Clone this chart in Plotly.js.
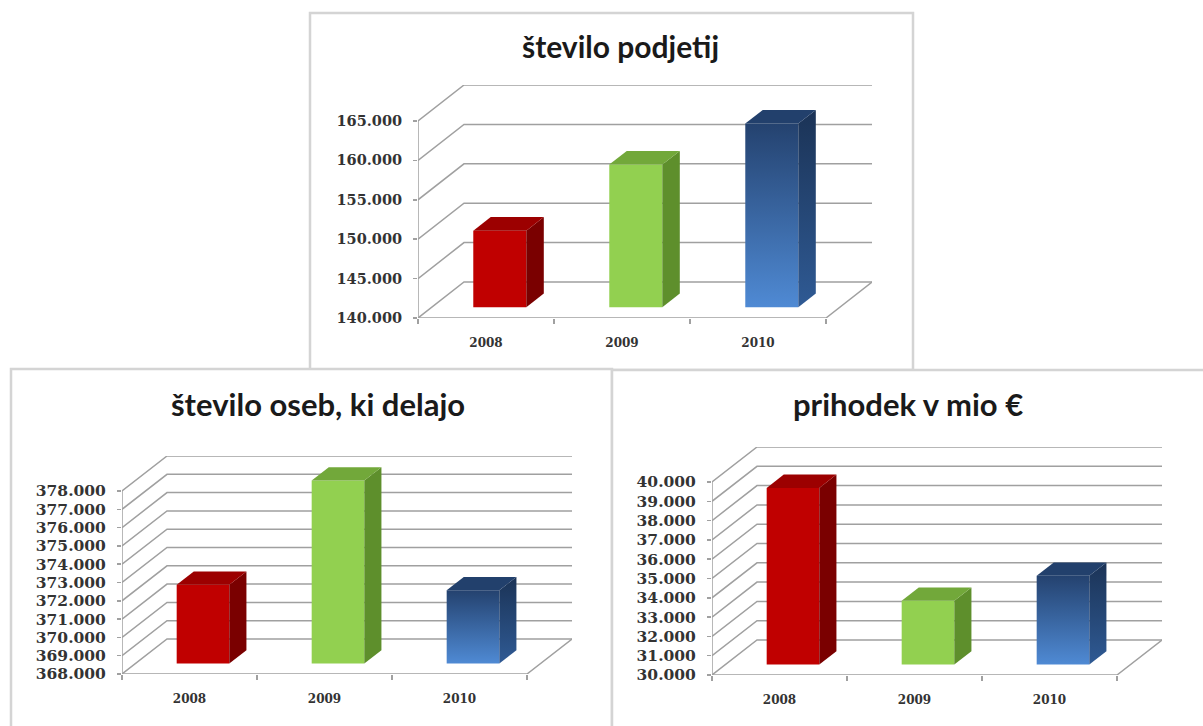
<!DOCTYPE html>
<html>
<head>
<meta charset="utf-8">
<script src="https://cdn.plot.ly/plotly-3.0.1.min.js"></script>
<style>
html,body{margin:0;padding:0;background:#fff;}
#chart{width:1203px;height:726px;}
</style>
</head>
<body>
<div id="chart"></div>
<script>
// ---------- data ----------
const years = ['2008', '2009', '2010'];
const titles = ['število podjetij', 'število oseb, ki delajo', 'prihodek v mio €'];
const podjetja = [149700, 158100, 163300];
const osebe = [372300, 378000, 372000];
const prihodek = [39150, 33300, 34600];
const axisPodjetja = [140000, 165000, 5000];
const axisOsebe = [368000, 378000, 1000];
const axisPrihodek = [30000, 40000, 1000];

// ---------- layout helpers ----------
const W = 1203, H = 726;
const barColors = [
  {front: '#c00000', side: '#7a0000', top: '#9c0000'},
  {front: '#92d050', side: '#5e8f2c', top: '#72a83a'},
  {front: 'grad', side: 'gradSide', top: '#22406c'}
];

const traces = [];
const layout = {
  width: W, height: H,
  margin: {l: 0, r: 0, t: 0, b: 0},
  paper_bgcolor: '#ffffff',
  plot_bgcolor: 'rgba(0,0,0,0)',
  showlegend: false,
  separators: ',.',
  hovermode: false,
  annotations: [],
  shapes: []
};

// panels: geometry in pixels
const panels = [
  {vals: podjetja, ax: axisPodjetja, title: titles[0],
   x0: 418, x1: 826, yb: 318, yt: 121, dxp: 46, dyp: 36,
   titleX: 620, titleY: 46, titleSize: 30, tickSize: 14.5,
   box: [310, 13, 913, 370]},
  {vals: osebe, ax: axisOsebe, title: titles[1],
   x0: 122, x1: 527, yb: 674, yt: 491, dxp: 45, dyp: 35,
   titleX: 318, titleY: 404, titleSize: 31, tickSize: 15.5,
   box: [11, 369, 612, 740]},
  {vals: prihodek, ax: axisPrihodek, title: titles[2],
   x0: 712, x1: 1117, yb: 675, yt: 482, dxp: 45, dyp: 35,
   titleX: 908, titleY: 404, titleSize: 31, tickSize: 15.5,
   box: [612, 370, 1215, 740]}
];

const gridColor = '#a0a0a0';
const F0 = 0.3, F1 = 0.68, BW = 0.39;

panels.forEach((p, k) => {
  const n = k === 0 ? '' : String(k + 1);
  const xa = 'x' + n, ya = 'y' + n;
  const [vmin, vmax, step] = p.ax;
  const catPx = (p.x1 - p.x0) / 3;
  const DX = p.dxp / catPx;
  const pxPerUnit = (p.yb - p.yt) / (vmax - vmin);
  const DY = p.dyp / pxPerUnit;
  const tickVals = [];
  for (let v = vmin; v <= vmax + 1e-6; v += step) tickVals.push(v);

  layout['xaxis' + n] = {
    domain: [p.x0 / W, (p.x1 + p.dxp) / W],
    range: [-0.5, 2.5 + DX],
    anchor: ya,
    showgrid: false, zeroline: false, showline: false,
    tickmode: 'array', tickvals: [0, 1, 2], ticktext: years,
    ticks: '',
    ticklabelstandoff: 16,
    tickfont: {family: 'DejaVu Serif', size: 12, weight: 'bold', color: '#333333'},
    minor: {tickvals: [-0.5, 0.5, 1.5, 2.5], ticks: 'outside', ticklen: 5, tickcolor: gridColor, tickwidth: 1.5, showgrid: false},
    fixedrange: true
  };
  layout['yaxis' + n] = {
    domain: [1 - p.yb / H, 1 - (p.yt - p.dyp) / H],
    range: [vmin, vmax + DY],
    anchor: xa,
    showgrid: false, zeroline: false, showline: false,
    tickmode: 'array', tickvals: tickVals,
    tickformat: ',d',
    ticks: 'outside', ticklen: 4, tickcolor: gridColor, tickwidth: 1.5,
    ticklabelstandoff: 8,
    tickfont: {family: 'DejaVu Serif', size: p.tickSize, weight: 'bold', color: '#333333'},
    fixedrange: true
  };

  // walls grid (side diagonals + back wall lines)
  const gx = [], gy = [];
  tickVals.forEach(v => {
    gx.push(-0.5, -0.5 + DX, 2.5 + DX, null);
    gy.push(v, v + DY, v + DY, null);
  });
  // floor front, right diagonal, front axis
  gx.push(-0.5, 2.5, 2.5 + DX, null, -0.5, -0.5, null);
  gy.push(vmin, vmin, vmin + DY, null, vmin, vmax, null);
  traces.push({type: 'scatter', mode: 'lines', x: gx, y: gy, xaxis: xa, yaxis: ya,
    line: {color: gridColor, width: 1.5}, hoverinfo: 'skip'});

  // bars (3 faces each)
  p.vals.forEach((v, i) => {
    const c = barColors[i];
    const xl = i - BW / 2 + F0 * DX, xr = i + BW / 2 + F0 * DX;
    const yb0 = vmin + F0 * DY, yt0 = v + F0 * DY;
    const ddx = (F1 - F0) * DX, ddy = (F1 - F0) * DY;
    const face = (xs, ys, col, grad) => {
      const t = {type: 'scatter', mode: 'lines', x: xs, y: ys, xaxis: xa, yaxis: ya,
        fill: 'toself', line: {width: 0, color: 'rgba(0,0,0,0)'}, hoverinfo: 'skip'};
      if (grad) t.fillgradient = grad; else t.fillcolor = col;
      traces.push(t);
    };
    let gFront = null, gSide = null;
    if (c.front === 'grad') {
      gFront = {type: 'vertical', colorscale: [[0, '#4f8ad4'], [1, '#24426f']]};
      gSide = {type: 'vertical', colorscale: [[0, '#2f5a94'], [1, '#1b3356']]};
    }
    face([xl, xr, xr, xl, xl], [yb0, yb0, yt0, yt0, yb0], c.front, gFront);
    face([xr, xr + ddx, xr + ddx, xr, xr], [yb0, yb0 + ddy, yt0 + ddy, yt0, yb0], c.side, gSide);
    face([xl, xr, xr + ddx, xl + ddx, xl], [yt0, yt0, yt0 + ddy, yt0 + ddy, yt0], c.top, null);
  });

  // title
  layout.annotations.push({
    xref: 'paper', yref: 'paper', x: p.titleX / W, y: 1 - p.titleY / H,
    xanchor: 'center', yanchor: 'middle', showarrow: false,
    text: p.title,
    font: {family: 'Lato', size: p.titleSize, weight: 'bold', color: '#1a1a1a'}
  });
  // panel frame
  layout.shapes.push({
    type: 'rect', xref: 'paper', yref: 'paper', layer: 'below',
    x0: p.box[0] / W, x1: p.box[2] / W, y0: 1 - p.box[3] / H, y1: 1 - p.box[1] / H,
    line: {color: '#d4d4d4', width: 2.5}, fillcolor: '#ffffff'
  });
});

Plotly.newPlot('chart', traces, layout, {staticPlot: true, displayModeBar: false});
</script>
</body>
</html>
